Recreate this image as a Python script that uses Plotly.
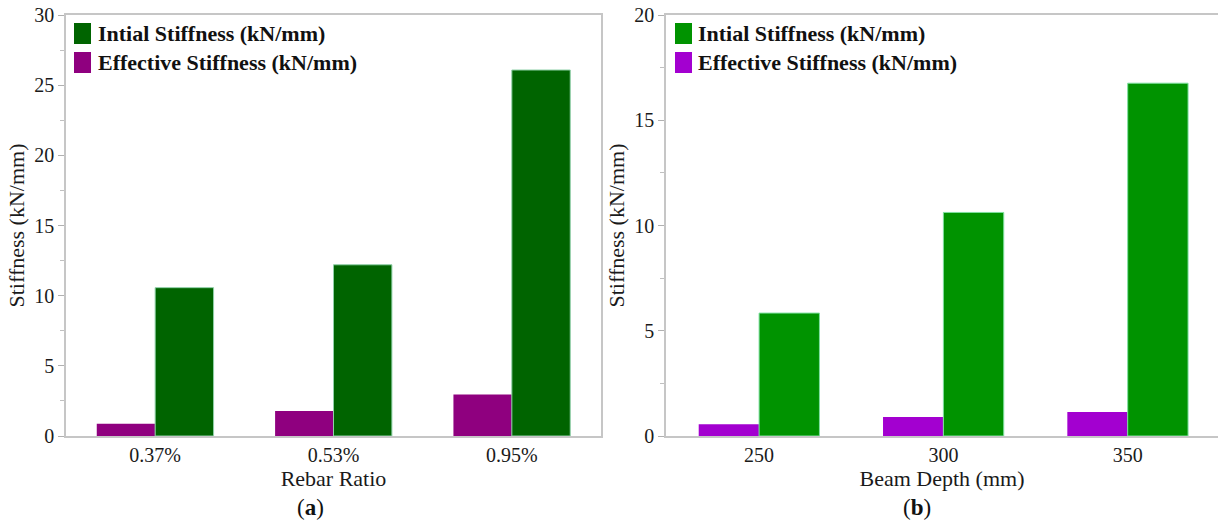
import plotly.graph_objects as go

# Stiffness results for the two parametric studies
rebar_ratio = ["0.37%", "0.53%", "0.95%"]
initial_rebar = [10.57, 12.2, 26.08]
effective_rebar = [0.88, 1.78, 2.95]

beam_depth = ["250", "300", "350"]
initial_depth = [5.84, 10.62, 16.76]
effective_depth = [0.56, 0.90, 1.14]

W, H = 1218, 525
SERIF = "Liberation Serif"
AXIS_GREY = "#c6c6c6"


def px_x(p):
    return p / W


def px_y(p):
    return 1 - p / H


fig = go.Figure()

# Panel (a): rebar ratio
fig.add_trace(go.Bar(x=rebar_ratio, y=effective_rebar, name="Effective Stiffness (kN/mm)",
                     marker=dict(color="#8f007f", line=dict(width=0)),
                     xaxis="x", yaxis="y", showlegend=False))
fig.add_trace(go.Bar(x=rebar_ratio, y=initial_rebar, name="Intial Stiffness (kN/mm)",
                     marker=dict(color="#006400", line=dict(width=1, color="#8fd0a8")),
                     xaxis="x", yaxis="y", showlegend=False))

# Panel (b): beam depth
fig.add_trace(go.Bar(x=beam_depth, y=effective_depth, name="Effective Stiffness (kN/mm)",
                     marker=dict(color="#a300d0", line=dict(width=0)),
                     xaxis="x2", yaxis="y2", showlegend=False))
fig.add_trace(go.Bar(x=beam_depth, y=initial_depth, name="Intial Stiffness (kN/mm)",
                     marker=dict(color="#009300", line=dict(width=1, color="#7fe0a0")),
                     xaxis="x2", yaxis="y2", showlegend=False))

tick_font = dict(family=SERIF, size=20, color="#1a1a1a")
title_font = dict(family=SERIF, size=22, color="#1a1a1a")

ydom = [px_y(436), px_y(15)]

common_x = dict(showline=True, linecolor=AXIS_GREY, linewidth=2, ticks="",
                showgrid=False, zeroline=False, tickfont=tick_font, automargin=False,
                title_font=title_font, title_standoff=1, fixedrange=True)
common_y = dict(showline=True, linecolor=AXIS_GREY, linewidth=1.5, ticks="outside",
                ticklen=6, tickwidth=1, tickcolor="#b0b0b0", dtick=5, automargin=False,
                minor=dict(dtick=2.5, ticks="outside", ticklen=4, tickcolor="#c0c0c0"),
                showgrid=False, zeroline=False, tickfont=tick_font,
                title=dict(text="Stiffness (kN/mm)", font=title_font, standoff=4),
                fixedrange=True)

fig.update_layout(
    width=W, height=H,
    margin=dict(l=0, r=0, t=0, b=0),
    paper_bgcolor="white", plot_bgcolor="white",
    barmode="group", bargap=0.345, bargroupgap=0,
    xaxis=dict(domain=[px_x(66), px_x(601)], range=[-0.5, 2.5], mirror=True,
               title=dict(text="Rebar Ratio"), anchor="y", **common_x),
    yaxis=dict(domain=ydom, range=[0, 30], mirror=True, anchor="x", **common_y),
    xaxis2=dict(domain=[px_x(666), 1.0], range=[-0.505, 2.49], mirror=True,
                title=dict(text="Beam Depth (mm)"), anchor="y2", **common_x),
    yaxis2=dict(domain=ydom, range=[0, 20], anchor="x2", **common_y),
    showlegend=False,
)

# Legend swatches and labels drawn inside each panel
legend_rows = [
    (74, "#006400", "#8f007f", 96, "Intial Stiffness (kN/mm)", "Effective Stiffness (kN/mm)"),
    (675, "#009300", "#a300d0", 696, "Intial Stiffness (kN/mm)", "Effective Stiffness (kN/mm)"),
]
for sx, green, purple, tx, t1, t2 in legend_rows:
    for (y0, y1, col, txt) in [(23, 44, green, t1), (52, 73, purple, t2)]:
        fig.add_shape(type="rect", xref="paper", yref="paper",
                      x0=px_x(sx), x1=px_x(sx + 17), y0=px_y(y1), y1=px_y(y0),
                      fillcolor=col, line=dict(width=0))
        fig.add_annotation(x=px_x(tx), y=px_y((y0 + y1) / 2), xref="paper", yref="paper",
                           text=f"<b>{txt}</b>", showarrow=False, xanchor="left",
                           yanchor="middle", font=dict(family=SERIF, size=22, color="#111111"))

# Panel captions
for cx, letter in [(310, "a"), (917, "b")]:
    fig.add_annotation(x=px_x(cx), y=px_y(507), xref="paper", yref="paper",
                       text=f"(<b>{letter}</b>)", showarrow=False, xanchor="center",
                       yanchor="middle", font=dict(family=SERIF, size=23, color="#111111"))

fig.write_html("out.html")
